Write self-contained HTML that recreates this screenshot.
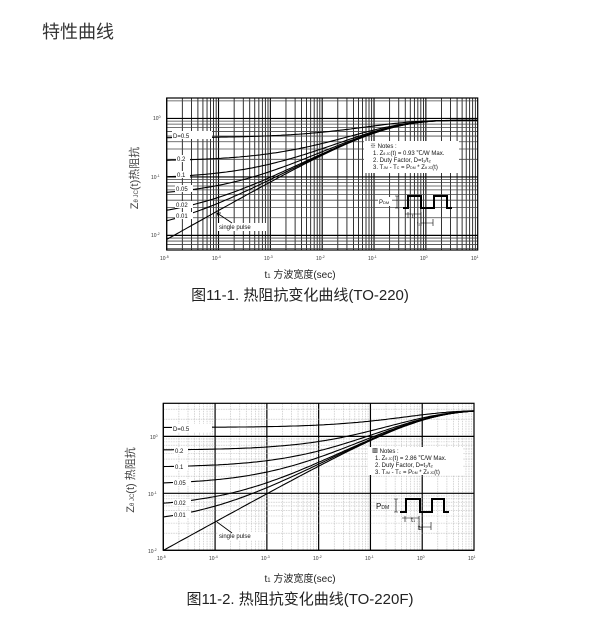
<!DOCTYPE html>
<html><head><meta charset="utf-8"><style>
body{margin:0;background:#fff;width:603px;height:637px;overflow:hidden;}
svg{position:absolute;left:0;top:0;}
text{font-family:"Liberation Sans","Noto Sans CJK SC",sans-serif;}
</style></head><body>
<svg id="s" width="603" height="637" viewBox="0 0 603 637">
<text x="42" y="38" font-size="18" fill="#333">特性曲线</text>

<!-- chart 1 labels -->
<g font-size="5" fill="#333">
<text x="160" y="260">10<tspan dy="-2" font-size="3.5">-5</tspan></text>
<text x="212" y="260">10<tspan dy="-2" font-size="3.5">-4</tspan></text>
<text x="264" y="260">10<tspan dy="-2" font-size="3.5">-3</tspan></text>
<text x="316" y="260">10<tspan dy="-2" font-size="3.5">-2</tspan></text>
<text x="368" y="260">10<tspan dy="-2" font-size="3.5">-1</tspan></text>
<text x="420" y="260">10<tspan dy="-2" font-size="3.5">0</tspan></text>
<text x="471" y="260">10<tspan dy="-2" font-size="3.5">1</tspan></text>
<text x="153" y="120">10<tspan dy="-2" font-size="3.5">0</tspan></text>
<text x="151" y="179">10<tspan dy="-2" font-size="3.5">-1</tspan></text>
<text x="151" y="237">10<tspan dy="-2" font-size="3.5">-2</tspan></text>
</g>
<text transform="translate(138,178) rotate(-90)" text-anchor="middle" font-size="11" fill="#444" font-family="Liberation Serif,Noto Serif CJK SC,serif">Z<tspan font-size="6">θ JC</tspan>(t)热阻抗</text>
<text x="300" y="278" text-anchor="middle" font-size="10" fill="#222">t<tspan font-size="6">1</tspan> 方波宽度(sec)</text>
<text x="300" y="300" text-anchor="middle" font-size="15" fill="#222">图11-1. 热阻抗变化曲线(TO-220)</text>

<!-- chart 2 labels -->
<g font-size="5" fill="#333">
<text x="157" y="560">10<tspan dy="-2" font-size="3.5">-5</tspan></text>
<text x="209" y="560">10<tspan dy="-2" font-size="3.5">-4</tspan></text>
<text x="261" y="560">10<tspan dy="-2" font-size="3.5">-3</tspan></text>
<text x="313" y="560">10<tspan dy="-2" font-size="3.5">-2</tspan></text>
<text x="365" y="560">10<tspan dy="-2" font-size="3.5">-1</tspan></text>
<text x="417" y="560">10<tspan dy="-2" font-size="3.5">0</tspan></text>
<text x="468" y="560">10<tspan dy="-2" font-size="3.5">1</tspan></text>
<text x="150" y="439">10<tspan dy="-2" font-size="3.5">0</tspan></text>
<text x="148" y="496">10<tspan dy="-2" font-size="3.5">-1</tspan></text>
<text x="148" y="553">10<tspan dy="-2" font-size="3.5">-2</tspan></text>
</g>
<text transform="translate(134,480) rotate(-90)" text-anchor="middle" font-size="11" fill="#444" font-family="Liberation Serif,Noto Serif CJK SC,serif">Z<tspan font-size="6">θ JC</tspan>(t) 热阻抗</text>
<text x="300" y="582" text-anchor="middle" font-size="10" fill="#222">t<tspan font-size="6">1</tspan> 方波宽度(sec)</text>
<text x="300" y="604" text-anchor="middle" font-size="15" fill="#222">图11-2. 热阻抗变化曲线(TO-220F)</text>

<g id="g1"></g><g id="g2"></g>

<!-- chart1 annotations -->
<g font-size="6" fill="#111">
<rect x="364" y="141" width="95" height="32" fill="#fff"/>
<text x="370" y="148">※ Notes :</text>
<text x="373" y="155">1. Z<tspan font-size="3.5">θ JC</tspan>(t) = 0.93 ℃/W Max.</text>
<text x="373" y="162">2. Duty Factor, D=t₁/t₂</text>
<text x="373" y="169">3. T<tspan font-size="3.5">JM</tspan> - T<tspan font-size="3.5">C</tspan> = P<tspan font-size="3.5">DM</tspan> * Z<tspan font-size="3.5">θ JC</tspan>(t)</text>
<rect x="172" y="131" width="40" height="8" fill="#fff"/><text x="173" y="138">D=0.5</text>
<rect x="176" y="155" width="14" height="7" fill="#fff"/><text x="177" y="161">0.2</text>
<rect x="176" y="171" width="14" height="7" fill="#fff"/><text x="177" y="177">0.1</text>
<rect x="175" y="185" width="18" height="7" fill="#fff"/><text x="176" y="191">0.05</text>
<rect x="175" y="201" width="18" height="7" fill="#fff"/><text x="176" y="207">0.02</text>
<rect x="175" y="212" width="18" height="7" fill="#fff"/><text x="176" y="218">0.01</text>
<rect x="218" y="223" width="48" height="8" fill="#fff"/><text x="219" y="229">single pulse</text>
<rect x="378" y="197" width="14" height="9" fill="#fff"/><text x="379" y="204">P<tspan font-size="4">DM</tspan></text>
<text x="412" y="218" font-size="5">t₁</text><text x="417" y="225" font-size="5">t₂</text>
</g>
<path d="M403 208 H408 V196 H421 V208 H434 V196 H447 V208 H452" fill="none" stroke="#000" stroke-width="2"/>
<path d="M397 196 V208 M395 196 h4 M395 208 h4 M408 212 V218 M421 212 V226 M433 219 V226 M405 214 H421 M421 223 H433" stroke="#000" stroke-width="0.6" fill="none"/>
<path d="M217 213 L232 223 M217 213 l4 0 M217 213 l1.5 3.5" stroke="#000" stroke-width="0.8" fill="none"/>

<!-- chart2 annotations -->
<g font-size="6" fill="#111">
<rect x="368" y="447" width="95" height="28" fill="#fff"/>
<text x="372" y="453">▩ Notes :</text>
<text x="375" y="460">1. Z<tspan font-size="3.5">θ JC</tspan>(t) = 2.86 ℃/W Max.</text>
<text x="375" y="467">2. Duty Factor, D=t₁/t₂</text>
<text x="375" y="474">3. T<tspan font-size="3.5">JM</tspan> - T<tspan font-size="3.5">C</tspan> = P<tspan font-size="3.5">DM</tspan> * Z<tspan font-size="3.5">θ JC</tspan>(t)</text>
<rect x="172" y="424" width="40" height="8" fill="#fff"/><text x="173" y="431">D=0.5</text>
<rect x="174" y="447" width="14" height="7" fill="#fff"/><text x="175" y="453">0.2</text>
<rect x="174" y="463" width="14" height="7" fill="#fff"/><text x="175" y="469">0.1</text>
<rect x="173" y="479" width="18" height="7" fill="#fff"/><text x="174" y="485">0.05</text>
<rect x="173" y="499" width="18" height="7" fill="#fff"/><text x="174" y="505">0.02</text>
<rect x="173" y="511" width="18" height="7" fill="#fff"/><text x="174" y="517">0.01</text>
<rect x="218" y="532" width="48" height="8" fill="#fff"/><text x="219" y="538">single pulse</text>
<text x="376" y="509" font-size="8">P<tspan font-size="5">DM</tspan></text>
<text x="411" y="522" font-size="7">t<tspan font-size="4">1</tspan></text>
<text x="418" y="530" font-size="7">t<tspan font-size="4">2</tspan></text>
</g>
<path d="M400 512 H406 V499 H420 V512 H432 V499 H444 V512 H449" fill="none" stroke="#000" stroke-width="2"/>
<path d="M396 499 V512 M394 499 h4 M394 512 h4 M405 516 V522 M419 516 V530 M431 522 V530 M402 518 H419 M419 527 H431" stroke="#000" stroke-width="0.6" fill="none"/>
<path d="M217 522 L232 533" stroke="#000" stroke-width="0.8"/>
</svg>
<script>
var NS="http://www.w3.org/2000/svg";
function el(g,t,a){var e=document.createElementNS(NS,t);for(var k in a)e.setAttribute(k,a[k]);g.appendChild(e);return e;}
function chart(id,x0,x1,y0,y1,yTopLog,yBotLog,zmax,tau,style){
 var g=document.getElementById(id);
 var dx=(x1-x0)/6, dy=(y1-y0)/(yTopLog-yBotLog);
 function X(l){return x0+(l+5)*dx;} function Y(l){return y0+(yTopLog-l)*dy;}
 for(var d=-5;d<1;d++)for(var m=1;m<10;m++){var x=X(d+Math.log10(m));
  if(style==1) el(g,'line',{x1:x,x2:x,y1:y0,y2:y1,stroke:'#000','stroke-width':m==1?1.1:0.8});
  else el(g,'line',{x1:x,x2:x,y1:y0,y2:y1,stroke:m==1?'#000':'#bbb','stroke-width':m==1?1.2:0.6,'stroke-dasharray':m==1?'':'1.5,1'});}
 for(var d=Math.floor(yBotLog);d<Math.ceil(yTopLog);d++)for(var m=1;m<10;m++){var l=d+Math.log10(m);if(l<yBotLog||l>yTopLog)continue;var y=Y(l);
  if(style==1) el(g,'line',{x1:x0,x2:x1,y1:y,y2:y,stroke:m==1?'#000':'#444','stroke-width':m==1?1.2:0.8});
  else el(g,'line',{x1:x0,x2:x1,y1:y,y2:y,stroke:m==1?'#000':'#bbb','stroke-width':m==1?1.2:0.6,'stroke-dasharray':m==1?'':'1.5,1'});}
 el(g,'rect',{x:x0,y:y0,width:x1-x0,height:y1-y0,fill:'none',stroke:'#000','stroke-width':1.2});
 [0.5,0.2,0.1,0.05,0.02,0.01,0].forEach(function(D){var p='';
  for(var i=0;i<=120;i++){var l=-5+6*i/120,t=Math.pow(10,l);var zs=zmax*(1-Math.exp(-Math.sqrt(t/tau)));
   var z=D*zmax+(1-D)*zs; if(z>zmax)z=zmax; p+=(i?'L':'M')+X(l).toFixed(1)+' '+Y(Math.log10(z)).toFixed(1);}
  el(g,'path',{d:p,fill:'none',stroke:'#000','stroke-width':1.1});});
}
chart('g1',166.7,477.7,98,250,0.35,-2.25,0.93,0.118,1);
chart('g2',163.3,474,403.3,550.3,0.58,-2,2.86,0.82,2);
</script>
</body></html>
